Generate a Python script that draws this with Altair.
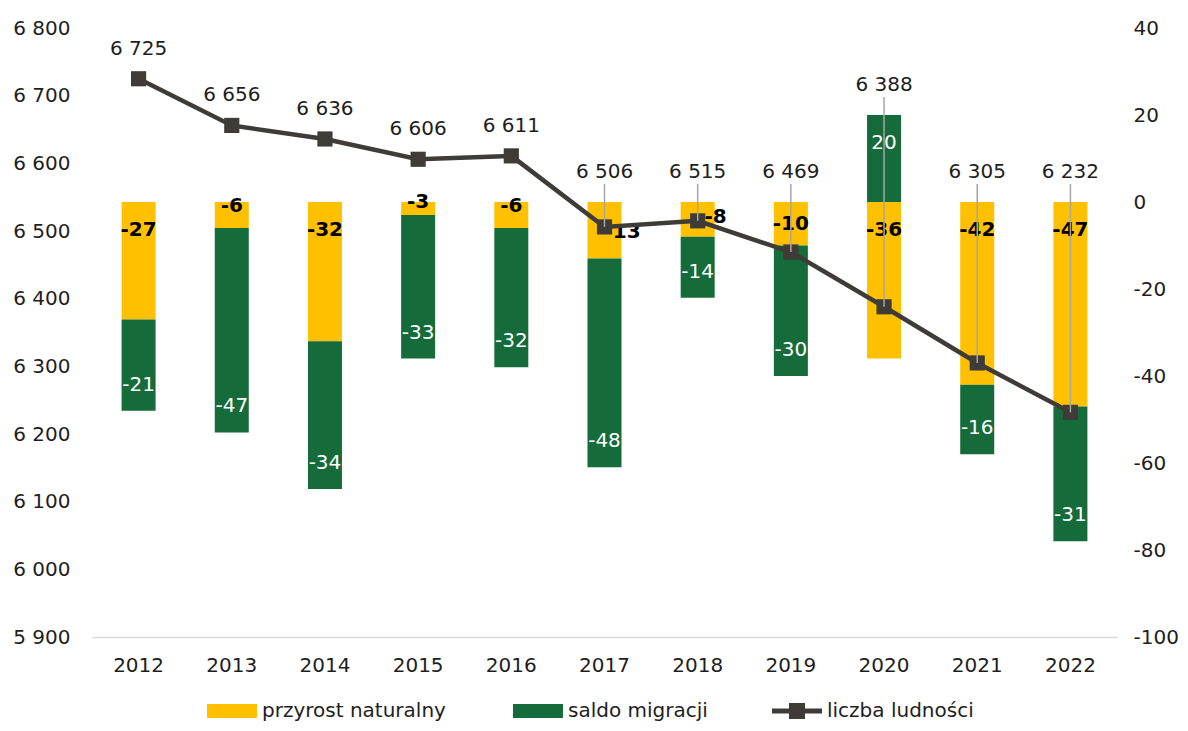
import altair as alt
import pandas as pd

# ---- data ----
years = ["2012", "2013", "2014", "2015", "2016", "2017", "2018", "2019", "2020", "2021", "2022"]
natural = [-27, -6, -32, -3, -6, -13, -8, -10, -36, -42, -47]          # przyrost naturalny
migration = [-21, -47, -34, -33, -32, -48, -14, -30, 20, -16, -31]     # saldo migracji
population = [6725, 6656, 6636, 6606, 6611, 6506, 6515, 6469, 6388, 6305, 6232]  # liczba ludności
series_names = ["przyrost naturalny", "saldo migracji"]
line_name = "liczba ludności"
left_ticks = [5900, 6000, 6100, 6200, 6300, 6400, 6500, 6600, 6700, 6800]
right_ticks = [-100, -80, -60, -40, -20, 0, 20, 40]

YELLOW = "#ffc000"
GREEN = "#156b39"
LINE = "#3f3c38"
TEXT = "#1e1e1e"
FONT = "DejaVu Sans"

# ---- tables ----
rows = []
for y, n, m, p in zip(years, natural, migration, population):
    m_start = n if (m < 0) == (n < 0) else 0
    rows.append(dict(year=y, series=series_names[0], order=0, value=n, start=0, end=n, label=str(n), pop=p))
    rows.append(dict(year=y, series=series_names[1], order=1, value=m, start=m_start, end=m_start + m, label=str(m), pop=p))
bars_df = pd.DataFrame(rows)

line_df = pd.DataFrame(dict(
    year=years, pop=population, natural=natural, migration=migration,
    series=[line_name] * len(years),
    label=[f"{p:,}".replace(",", " ") for p in population],
))

LMIN, LMAX = left_ticks[0], left_ticks[-1]
RMIN, RMAX = right_ticks[0], right_ticks[-1]
yR = alt.Scale(domain=[RMIN, RMAX], nice=False, zero=False)
yL = alt.Scale(domain=[LMIN, LMAX], nice=False, zero=False)

x_enc = alt.X("year:O", scale=alt.Scale(paddingInner=0, paddingOuter=0),
              axis=alt.Axis(title=None, labelAngle=0, ticks=False, tickSize=0,
                            domainColor="#d9d9d9", domainWidth=1.5,
                            labelPadding=18, labelFontSize=20, labelColor=TEXT, labelFont=FONT))

bar_path = "M-2.5,-0.7H2.5V0.7H-2.5Z"
line_path = "M-2.5,-0.25H2.5V0.25H-2.5Z M-0.8,-0.8H0.8V0.8H-0.8Z"

legend_common = dict(title=None, orient="none", direction="horizontal", legendY=673,
                     symbolSize=400, symbolStrokeWidth=0, labelOffset=20, labelLimit=400,
                     labelFontSize=20, labelColor=TEXT, labelFont=FONT)

bars = alt.Chart(bars_df).mark_bar(size=34).encode(
    x=x_enc,
    y=alt.Y("start:Q", scale=yR,
            axis=alt.Axis(orient="right", title=None, values=right_ticks, grid=False,
                          ticks=False, tickSize=0, domain=False, labelPadding=16,
                          labelFontSize=20, labelColor=TEXT, labelFont=FONT,
                          labelExpr="'' + datum.value")),
    y2="end:Q",
    color=alt.Color("series:N", scale=alt.Scale(domain=series_names, range=[YELLOW, GREEN]),
                    legend=alt.Legend(legendX=130, symbolType=bar_path, columnPadding=67,
                                      **legend_common)),
)

yellow_base = alt.Chart(bars_df).transform_filter(
    alt.datum.order == 0
).transform_calculate(
    lv="max(min(datum.value + 5, 0), -6.4)",
    popR=f"(datum.pop - {LMIN}) * {RMAX - RMIN} / {LMAX - LMIN} + ({RMIN})",
).transform_calculate(
    near="abs(datum.popR - datum.lv) < 3"
)
yellow_lbl = yellow_base.transform_filter("!datum.near").mark_text(
    fontSize=20, fontWeight="bold", color="#000000", font=FONT
).encode(x="year:O", y=alt.Y("lv:Q", scale=yR), text="label:N")
yellow_lbl_shift = yellow_base.transform_filter("datum.near").mark_text(
    fontSize=20, fontWeight="bold", color="#000000", font=FONT, dx=18, dy=2
).encode(x="year:O", y=alt.Y("lv:Q", scale=yR), text="label:N")

green_lbl = alt.Chart(bars_df).transform_filter(
    alt.datum.order == 1
).transform_calculate(
    lv="datum.end + (datum.value < 0 ? 6 : -6.4)"
).mark_text(fontSize=20, color="#ffffff", font=FONT).encode(
    x="year:O", y=alt.Y("lv:Q", scale=yR), text="label:N")

right_group = alt.layer(bars, yellow_lbl, yellow_lbl_shift, green_lbl)

line = alt.Chart(line_df).mark_line(color=LINE, strokeWidth=4.5).encode(
    x="year:O",
    y=alt.Y("pop:Q", scale=yL,
            axis=alt.Axis(orient="left", title=None, values=left_ticks, grid=False,
                          ticks=False, tickSize=0, domain=False, labelPadding=22,
                          labelFontSize=20, labelColor=TEXT, labelFont=FONT,
                          labelExpr="replace(format(datum.value, ','), ',', ' ')")),
)
points = alt.Chart(line_df).mark_point(shape="square", filled=True, size=230, opacity=1).encode(
    x="year:O",
    y=alt.Y("pop:Q", scale=yL),
    fill=alt.Fill("series:N", scale=alt.Scale(domain=[line_name], range=[LINE]),
                  legend=alt.Legend(legendX=695, symbolType=line_path, **legend_common)),
)

lbl_base = alt.Chart(line_df).transform_calculate(
    barTop="max(0, datum.natural) + max(0, datum.migration)"
).transform_calculate(
    barTopL=f"{LMIN} + (datum.barTop - ({RMIN})) * {LMAX - LMIN} / {RMAX - RMIN}"
).transform_calculate(
    lval="max(datum.pop, datum.barTopL)"
)
leaders = lbl_base.transform_filter("datum.lval > datum.pop").mark_rule(
    color="#a6a6a6", strokeWidth=1.5, yOffset=-18
).encode(x="year:O", y=alt.Y("lval:Q", scale=yL), y2="pop:Q")
pop_lbl = lbl_base.mark_text(fontSize=20, color=TEXT, font=FONT, dy=-30).encode(
    x="year:O", y=alt.Y("lval:Q", scale=yL), text="label:N")

left_group = alt.layer(line, points, leaders, pop_lbl)

chart = alt.layer(right_group, left_group).resolve_scale(
    y="independent"
).properties(
    width=1025, height=609,
    autosize=alt.AutoSizeParams(type="none"),
    padding={"left": 84, "top": 20, "right": 63, "bottom": 86},
).configure(font=FONT).configure_view(strokeWidth=0, stroke="transparent")

chart.save("out.html", embed_options={"renderer": "svg", "actions": False})
